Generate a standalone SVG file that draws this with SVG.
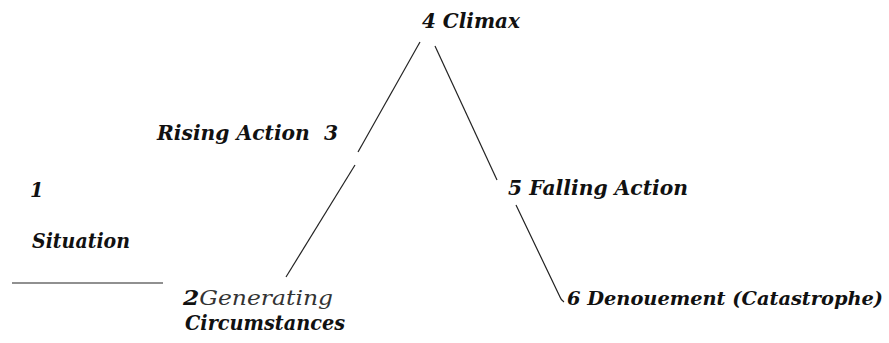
<svg xmlns="http://www.w3.org/2000/svg" width="889" height="343" viewBox="0 0 889 343">
<style>
.c{stroke:#222;stroke-width:1.2;fill:none}
.g{font-weight:normal;fill:#333}
</style>
<rect width="889" height="343" fill="#fff"/>
<g id="connectors">
<line class="c" x1="12" y1="283" x2="163" y2="283"/>
<line class="c" x1="286" y1="277" x2="355" y2="165"/>
<line class="c" x1="358" y1="152" x2="420" y2="42"/>
<line class="c" x1="435" y1="46" x2="497" y2="180"/>
<path class="c" d="M516 205 L560 297 Q561 300 564 302"/>
</g>
<g font-family="DejaVu Serif, Liberation Serif, serif" font-size="19.5" font-weight="bold" font-style="italic" fill="#111">
<g id="n1"><text x="30" y="197">1</text></g>
<g id="n1label"><text x="32" y="248" textLength="98" lengthAdjust="spacingAndGlyphs">Situation</text></g>
<g id="n2"><text x="183" y="305" textLength="150" lengthAdjust="spacingAndGlyphs">2<tspan class="g">Generating</tspan></text>
<text x="185" y="330" textLength="160" lengthAdjust="spacingAndGlyphs">Circumstances</text></g>
<g id="n3"><text x="157" y="140" textLength="181" lengthAdjust="spacingAndGlyphs" xml:space="preserve">Rising Action  3</text></g>
<g id="n4"><text x="422" y="28" textLength="98" lengthAdjust="spacingAndGlyphs">4 Climax</text></g>
<g id="n5"><text x="508" y="195" textLength="180" lengthAdjust="spacingAndGlyphs">5 Falling Action</text></g>
<g id="n6"><text x="567" y="305" font-size="18.6" textLength="316" lengthAdjust="spacingAndGlyphs">6 Denouement (Catastrophe)</text></g>
</g>
</svg>
